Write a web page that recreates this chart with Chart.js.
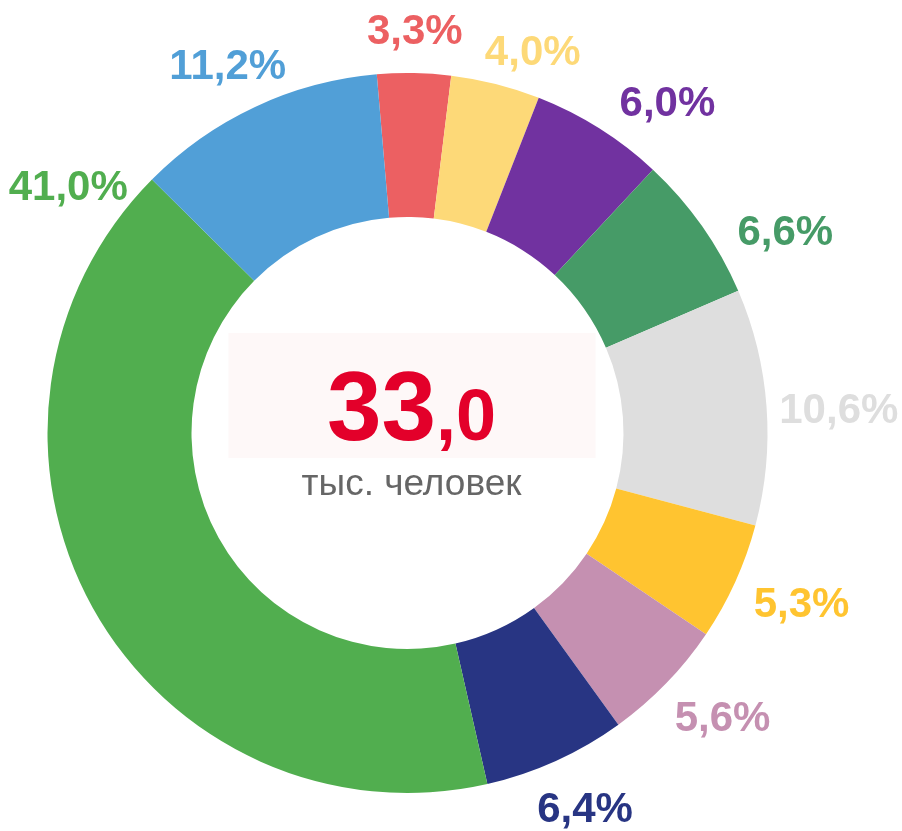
<!DOCTYPE html>
<html>
<head>
<meta charset="utf-8">
<script src="https://cdn.jsdelivr.net/npm/chart.js@4"></script>
<style>
  html, body { margin: 0; padding: 0; background: #fff; }
  canvas { display: block; }
</style>
</head>
<body>
<canvas id="chart" width="902" height="831"></canvas>
<script>
// Data (shares, %), clockwise from the top
const categories = ['A', 'B', 'C', 'D', 'E', 'F', 'G', 'H', 'I', 'J'];
const shares = [3.3, 4.0, 6.0, 6.6, 10.6, 5.3, 5.6, 6.4, 41.0, 11.2];
const colors = ['#EC6062', '#FDD978', '#7132A0', '#469B67', '#DEDEDE',
                '#FFC430', '#C590B1', '#283583', '#51AE4F', '#519FD7'];
// small nudges for the outside labels: angle (degrees) and distance (px)
const labelShift = [0, 4, 6, 7, 1, -1, -2, -1, 65, -1];
const labelPush = [0, -10, 0, 0, 0, 0, 0, 0, -7, -6];

const centerBig = '33';
const centerSmall = ',0';
const centerCaption = 'тыс. человек';

const FONT = '"Liberation Sans", Arial, sans-serif';

// Percent labels outside the ring
const outsideLabels = {
  id: 'outsideLabels',
  afterDatasetsDraw(chart) {
    const ctx = chart.ctx;
    const arcs = chart.getDatasetMeta(0).data;
    ctx.save();
    ctx.font = 'bold 42px ' + FONT;
    ctx.textAlign = 'center';
    ctx.textBaseline = 'middle';
    arcs.forEach((arc, i) => {
      const a = (arc.startAngle + arc.endAngle) / 2 + labelShift[i] * Math.PI / 180;
      const d = arc.outerRadius + 42 + 30 * Math.abs(Math.cos(a)) + labelPush[i];
      const x = arc.x + Math.cos(a) * d;
      const y = arc.y + Math.sin(a) * d;
      ctx.fillStyle = colors[i];
      ctx.fillText(shares[i].toFixed(1).replace('.', ',') + '%', x, y + 2);
    });
    ctx.restore();
  }
};

// Total in the middle
const centerText = {
  id: 'centerText',
  afterDatasetsDraw(chart) {
    const ctx = chart.ctx;
    const arc = chart.getDatasetMeta(0).data[0];
    const cx = arc.x, cy = arc.y;
    ctx.save();
    ctx.fillStyle = '#FEF8F8';
    ctx.fillRect(cx - 179, cy - 100, 367, 125);

    ctx.textBaseline = 'alphabetic';
    ctx.textAlign = 'left';
    ctx.font = 'bold 98px ' + FONT;
    const w1 = ctx.measureText(centerBig).width;
    ctx.font = 'bold 72px ' + FONT;
    const w2 = ctx.measureText(centerSmall).width;
    let x = cx + 4 - (w1 + w2) / 2;
    ctx.fillStyle = '#E3002A';
    ctx.font = 'bold 98px ' + FONT;
    ctx.fillText(centerBig, x, cy + 7);
    ctx.font = 'bold 72px ' + FONT;
    ctx.fillText(centerSmall, x + w1, cy + 7);

    ctx.textAlign = 'center';
    ctx.font = '37px ' + FONT;
    ctx.fillStyle = '#666666';
    ctx.fillText(centerCaption, cx + 4, cy + 62);
    ctx.restore();
  }
};

new Chart(document.getElementById('chart'), {
  type: 'doughnut',
  data: {
    labels: categories,
    datasets: [{
      data: shares,
      backgroundColor: colors,
      borderWidth: 0
    }]
  },
  options: {
    responsive: false,
    animation: false,
    cutout: '60%',
    rotation: -4.9,
    layout: { padding: { left: 47, right: 134, top: 73, bottom: 38 } },
    plugins: {
      legend: { display: false },
      tooltip: { enabled: false }
    }
  },
  plugins: [outsideLabels, centerText]
});
</script>
</body>
</html>
